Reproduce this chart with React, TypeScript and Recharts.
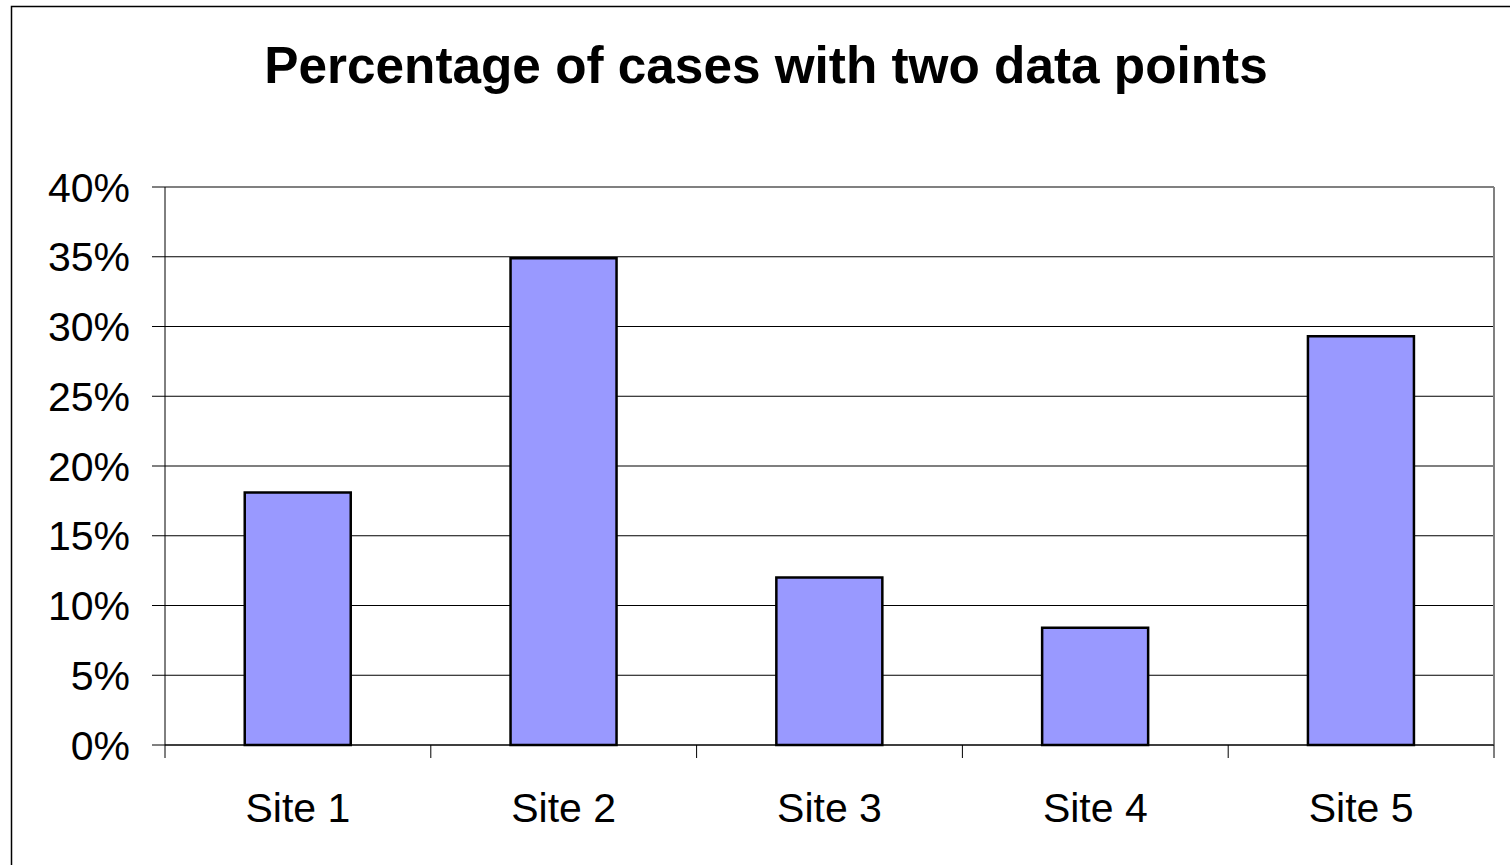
import React from 'react';
import { BarChart, Bar, XAxis, YAxis, CartesianGrid, ReferenceLine } from 'recharts';

// Values
const sites = ['Site 1', 'Site 2', 'Site 3', 'Site 4', 'Site 5'];
const pctTwoPoints = [18.1, 34.9, 12.0, 8.4, 29.3];
const yTicks = [0, 5, 10, 15, 20, 25, 30, 35, 40];

const data = sites.map((site, i) => ({ site, value: pctTwoPoints[i] }));

const FONT = '"Liberation Sans", Arial, sans-serif';
const W = 1510;
const H = 865;

// x-axis label plus a tick mark on the left edge of each category (and the right edge of the last)
const SiteTick = (props: any) => {
  const { x, y, payload, index, visibleTicksCount } = props;
  const half = payload?.offset ?? 0;
  const isLast = index === visibleTicksCount - 1;
  return (
    <g>
      <line x1={x - half} x2={x - half} y1={y} y2={y + 13} stroke="#000" strokeWidth={1} />
      {isLast && <line x1={x + half} x2={x + half} y1={y} y2={y + 13} stroke="#000" strokeWidth={1} />}
      <text x={x} y={y + 77} textAnchor="middle" fontSize={41} fontFamily={FONT} fill="#000">
        {payload.value}
      </text>
    </g>
  );
};

export default function App() {
  return (
    <div style={{ position: 'absolute', left: 0, top: 0, width: W, height: H, overflow: 'hidden', background: '#fff' }}>
      <BarChart
        width={W}
        height={H}
        data={data}
        margin={{ top: 187, right: 16, bottom: 60, left: 65 }}
        barCategoryGap="30%"
      >
        <CartesianGrid horizontal vertical={false} stroke="#000" strokeWidth={1.2} />
        <CartesianGrid
          horizontal={false}
          vertical
          verticalCoordinatesGenerator={({ offset }: any) => [offset.left + offset.width]}
          stroke="#808080"
          strokeWidth={2}
        />
        <ReferenceLine y={40} stroke="#808080" strokeWidth={2} />
        <XAxis
          dataKey="site"
          height={60}
          tickLine={false}
          tickSize={0}
          tickMargin={0}
          axisLine={{ stroke: '#000', strokeWidth: 1 }}
          tick={<SiteTick />}
          interval={0}
        />
        <YAxis
          width={100}
          domain={[0, 40]}
          ticks={yTicks}
          interval={0}
          tickFormatter={(v: number) => `${v}%`}
          tickSize={13}
          tickMargin={22}
          tickLine={{ stroke: '#000' }}
          axisLine={{ stroke: '#000', strokeWidth: 1 }}
          tick={{ fontSize: 41, fontFamily: FONT, fill: '#000' }}
        />
        <Bar dataKey="value" fill="#9999FF" stroke="#000" strokeWidth={2.5} isAnimationActive={false} />
      </BarChart>
      <svg
        width={W}
        height={H}
        style={{ position: 'absolute', left: 0, top: 0, pointerEvents: 'none' }}
      >
        <rect x={11.5} y={6.5} width={1520} height={880} fill="none" stroke="#000" strokeWidth={1.5} />
        <text x={766} y={83} textAnchor="middle" fontSize={51.3} fontWeight="bold" fontFamily={FONT} fill="#000">
          Percentage of cases with two data points
        </text>
      </svg>
    </div>
  );
}
